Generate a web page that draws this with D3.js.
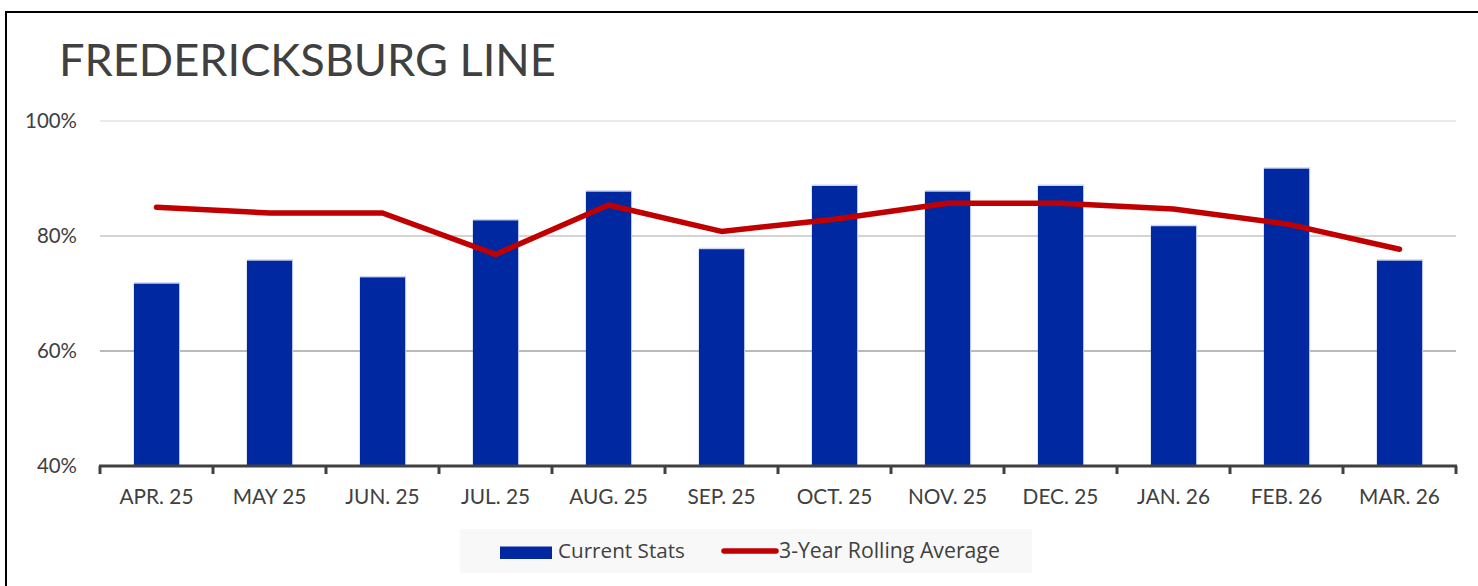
<!DOCTYPE html>
<html>
<head>
<meta charset="utf-8">
<script src="https://cdn.jsdelivr.net/npm/d3@7"></script>
<style>
  html, body { margin: 0; padding: 0; background: #ffffff; }
  svg { display: block; }
</style>
</head>
<body>
<svg id="chart" width="1478" height="586"></svg>
<script>
// Monthly on-time stats for the Fredericksburg Line
const months = ["APR. 25", "MAY 25", "JUN. 25", "JUL. 25", "AUG. 25", "SEP. 25",
                "OCT. 25", "NOV. 25", "DEC. 25", "JAN. 26", "FEB. 26", "MAR. 26"];
const currentStats = [71.7, 75.7, 72.8, 82.7, 87.7, 77.7, 88.7, 87.7, 88.7, 81.7, 91.7, 75.7];
const rollingAverage = [85, 84, 84, 76.8, 85.4, 80.8, 82.9, 85.7, 85.7, 84.7, 82.1, 77.7];
const yTicks = [40, 60, 80, 100];
const seriesNames = ["Current Stats", "3-Year Rolling Average"];
const chartTitle = "FREDERICKSBURG LINE";

const svg = d3.select("#chart");
const W = 1478, H = 586;
const plot = { left: 100, right: 1456, top: 121, bottom: 466 };

const barColor = "#0029A1";
const lineColor = "#C00000";
const textColor = "#404040";

// Scale a text element's font size so that it spans a given width
function fitWidth(sel, target) {
  const node = sel.node();
  const fs = parseFloat(sel.attr("font-size"));
  const w = node.getComputedTextLength();
  const nfs = fs * target / w;
  sel.attr("font-size", nfs);
  return nfs;
}

// Frame
svg.append("line").attr("x1", 5).attr("x2", W).attr("y1", 12).attr("y2", 12)
  .attr("stroke", "#000").attr("stroke-width", 2);
svg.append("line").attr("x1", 6).attr("x2", 6).attr("y1", 11).attr("y2", H)
  .attr("stroke", "#000").attr("stroke-width", 2);

// Title
const title = svg.append("text")
  .attr("x", 59).attr("y", 76)
  .attr("font-family", "Lato, 'Open Sans', sans-serif")
  .attr("font-size", 50)
  .attr("fill", textColor)
  .text(chartTitle);
fitWidth(title, 497);

// Scales
const x = d3.scaleBand().domain(months).range([plot.left, plot.right]).padding(0);
const y = d3.scaleLinear().domain([40, 100]).range([plot.bottom, plot.top]);

// Horizontal gridlines, getting darker toward the baseline
const gridColors = { 100: "#e4e4e4", 80: "#c6c6c6", 60: "#a3a3a3" };
svg.append("g").selectAll("line")
  .data(yTicks.filter(d => d > 40))
  .join("line")
  .attr("x1", plot.left).attr("x2", plot.right)
  .attr("y1", d => y(d)).attr("y2", d => y(d))
  .attr("stroke", d => gridColors[d])
  .attr("stroke-width", 1.6);

// Y axis labels
const yAxis = svg.append("g")
  .attr("transform", `translate(${plot.left},0)`)
  .call(d3.axisLeft(y).tickValues(yTicks).tickSize(0).tickPadding(23).tickFormat(d => d + "%"));
yAxis.select(".domain").remove();
yAxis.selectAll("text")
  .attr("font-family", "Lato, 'Open Sans', sans-serif")
  .attr("font-size", 19)
  .attr("fill", textColor);
{
  const t = yAxis.selectAll("text").filter(d => d === 100);
  const fs = fitWidth(t, 52);
  yAxis.selectAll("text").attr("font-size", fs);
}

// Bars
const bw = x.bandwidth() * 0.4;
const bars = svg.append("g");
bars.selectAll("rect.edge")
  .data(currentStats)
  .join("rect")
  .attr("class", "edge")
  .attr("x", (d, i) => x(months[i]) + (x.bandwidth() - bw) / 2)
  .attr("y", d => y(d) - 1.5)
  .attr("width", bw + 1)
  .attr("height", d => y(40) - y(d) + 1.5)
  .attr("fill", "#cdd5f0");
bars.selectAll("rect.bar")
  .data(currentStats)
  .join("rect")
  .attr("class", "bar")
  .attr("x", (d, i) => x(months[i]) + (x.bandwidth() - bw) / 2)
  .attr("y", d => y(d))
  .attr("width", bw)
  .attr("height", d => y(40) - y(d))
  .attr("fill", barColor);

// X axis with boundary ticks
const xAxisG = svg.append("g").attr("transform", `translate(0,${plot.bottom})`);
xAxisG.append("line")
  .attr("x1", plot.left - 1).attr("x2", plot.right + 1)
  .attr("stroke", "#404040").attr("stroke-width", 3);
const boundaries = months.map(m => x(m)).concat([plot.right]);
xAxisG.selectAll("line.tick")
  .data(boundaries)
  .join("line")
  .attr("class", "tick")
  .attr("x1", d => d).attr("x2", d => d)
  .attr("y1", 0).attr("y2", 8)
  .attr("stroke", "#404040").attr("stroke-width", 3);
const xLabels = xAxisG.selectAll("text")
  .data(months)
  .join("text")
  .attr("x", d => x(d) + x.bandwidth() / 2)
  .attr("y", 38)
  .attr("text-anchor", "middle")
  .attr("font-family", "Lato, 'Open Sans', sans-serif")
  .attr("font-size", 19)
  .attr("fill", textColor)
  .text(d => d);
{
  const fs = fitWidth(xLabels.filter((d, i) => i === 0), 74);
  xLabels.attr("font-size", fs);
}

// Rolling average line
const line = d3.line()
  .x((d, i) => x(months[i]) + x.bandwidth() / 2)
  .y(d => y(d));
svg.append("path")
  .datum(rollingAverage)
  .attr("d", line)
  .attr("fill", "none")
  .attr("stroke", lineColor)
  .attr("stroke-width", 5.5)
  .attr("stroke-linecap", "round")
  .attr("stroke-linejoin", "round");

// Legend
const legend = svg.append("g");
legend.append("rect")
  .attr("x", 460).attr("y", 529).attr("width", 572).attr("height", 44)
  .attr("fill", "#f8f8f8");
legend.append("rect")
  .attr("x", 500).attr("y", 546.5).attr("width", 52).attr("height", 12.5)
  .attr("fill", barColor);
const lt1 = legend.append("text")
  .attr("x", 558).attr("y", 558)
  .attr("font-family", "'Open Sans', sans-serif")
  .attr("font-size", 19)
  .attr("fill", textColor)
  .text(seriesNames[0]);
fitWidth(lt1, 127);
legend.append("line")
  .attr("x1", 724).attr("x2", 776).attr("y1", 551).attr("y2", 551)
  .attr("stroke", lineColor).attr("stroke-width", 5.5).attr("stroke-linecap", "round");
const lt2 = legend.append("text")
  .attr("x", 779).attr("y", 558)
  .attr("font-family", "'Open Sans', sans-serif")
  .attr("font-size", 19)
  .attr("fill", textColor)
  .text(seriesNames[1]);
fitWidth(lt2, 221);
</script>
</body>
</html>
